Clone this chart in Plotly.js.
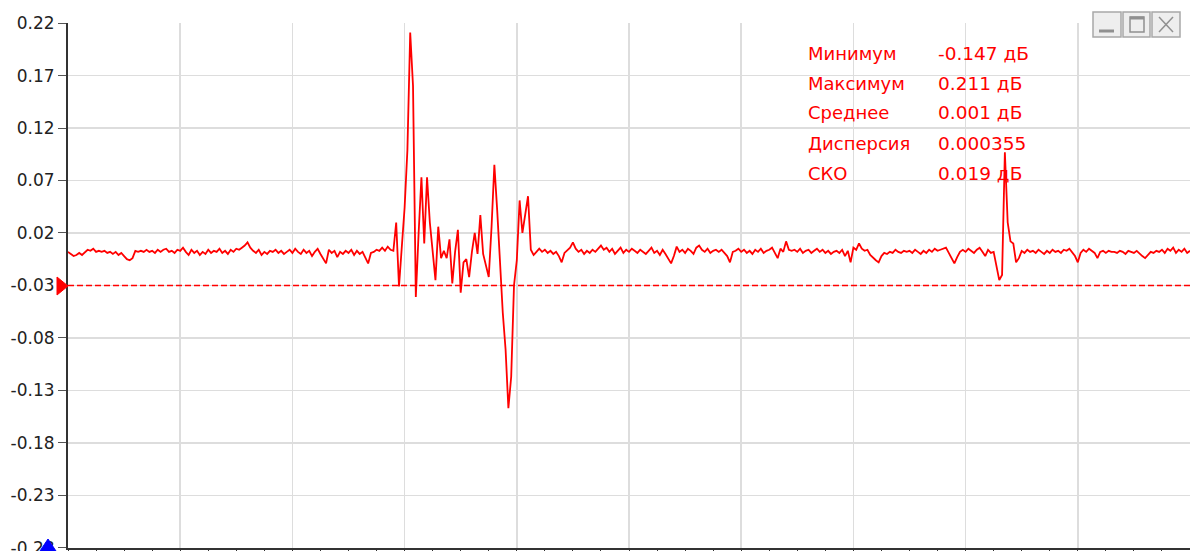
<!DOCTYPE html>
<html>
<head>
<meta charset="utf-8">
<script src="https://cdn.plot.ly/plotly-3.0.1.min.js"></script>
<style>
  html, body { margin: 0; padding: 0; background: #ffffff; }
  #chart { width: 1190px; height: 551px; }
</style>
</head>
<body>
<div id="chart"></div>
<script>
// ---- Data (dB), uniform sample spacing ----
const sampleStep = 2.5;

const baselineA = [
  0.002, 0.000, -0.002, -0.001, 0.001, -0.001, 0.002, 0.004, 0.003, 0.005, 0.002, 0.003, 0.002, 0.003, 0.001, 0.002, 0.000, 0.002, -0.001, 0.001,
  -0.002, -0.005, -0.006, -0.004, 0.003, 0.002, 0.003, 0.002, 0.004, 0.002, 0.003, 0.001, 0.004, 0.002, 0.004, 0.005, 0.002, 0.003, 0.001, 0.004,
  0.003, 0.006, 0.002, -0.001, 0.004, 0.001, 0.003, -0.001, 0.002, 0.000, 0.004, 0.001, 0.003, 0.002, 0.005, 0.001, 0.003, 0.000, 0.004, 0.002,
  0.005, 0.004, 0.006, 0.008, 0.011, 0.006, 0.003, 0.001, 0.004, -0.001, 0.002, 0.000, 0.003, 0.002, 0.004, 0.001, 0.003, 0.000, 0.002, 0.004,
  0.001, 0.005, 0.002, 0.000, 0.004, 0.001, 0.003, -0.002, 0.002, 0.005, 0.000, -0.004, -0.009, 0.004, 0.001, 0.003, -0.003, 0.002, 0.000, 0.003,
  0.001, 0.004, -0.001, 0.003, 0.000, 0.002, -0.004, -0.009, 0.001, 0.002, 0.004, 0.003, 0.006, 0.003, 0.007, 0.004
];

const eventMain = [
  0.003, 0.030, -0.031, 0.012, 0.044, 0.099, 0.211, 0.160, -0.041, 0.020,
  0.073, 0.010, 0.073, 0.030, 0.002, -0.025, 0.026, -0.004, 0.003, -0.004,
  0.014, -0.028, 0.002, 0.023, -0.037, -0.008, -0.005, -0.022, 0.002, 0.020,
  0.000, 0.037, 0.000, -0.010, -0.022, 0.026, 0.085, 0.042, -0.010, -0.056,
  -0.091, -0.147, -0.117, -0.030, -0.006, 0.051, 0.020, 0.039, 0.055, 0.004,
  -0.001, 0.002, 0.005
];

const baselineC = [
  0.002, 0.004, 0.001, 0.003, 0.000, 0.002, -0.002, -0.008, 0.001, 0.004, 0.006, 0.011, 0.005, 0.002, 0.004, 0.000, 0.003, 0.001, 0.004, 0.002, 0.005,
  0.008, 0.004, 0.006, 0.002, 0.005, 0.000, 0.003, 0.006, 0.001, 0.004, 0.002, 0.005, 0.003, 0.001, 0.004, 0.002, 0.000, 0.003, 0.006, 0.001,
  0.003, -0.001, 0.004, 0.000, -0.004, -0.009, -0.002, 0.007, 0.002, 0.004, 0.001, 0.005, 0.003, 0.000, 0.006, 0.008, 0.004, 0.002, 0.005, 0.001,
  0.003, 0.004, 0.002, 0.004, 0.001, -0.002, -0.008, 0.002, 0.003, 0.005, 0.002, 0.004, 0.001, 0.003, 0.000, 0.004, 0.002, 0.005, 0.001, 0.003,
  0.004, 0.006, 0.001, -0.004, 0.005, 0.002, 0.012, 0.004, 0.003, 0.004, 0.002, 0.005, 0.001, 0.003, 0.004, 0.001, 0.003, 0.005, 0.002, 0.004,
  0.001, 0.003, 0.000, 0.002, 0.003, 0.001, 0.004, -0.002, 0.003, -0.008, 0.006, 0.004, 0.010, 0.005, 0.003, 0.004, -0.001, -0.004, -0.006, -0.008,
  -0.002, 0.001, 0.000, 0.002, 0.001, 0.004, 0.002, 0.001, 0.003, 0.002, 0.003, 0.001, 0.004, 0.002, 0.000, 0.003, 0.001, 0.004, 0.002, 0.005,
  0.003, 0.004, 0.005, 0.006, 0.001, -0.004, -0.009, -0.003, 0.002, 0.004, 0.002, 0.005, 0.003, 0.001, 0.004, 0.006, 0.002, -0.002, 0.004, 0.001
];

const eventSmall = [0.002, -0.012, -0.025, -0.020, 0.097, 0.030, 0.012, 0.010, -0.008];

const baselineE = [
  -0.004, 0.003, 0.001, 0.004, 0.002, 0.003, 0.001, 0.004, 0.002, 0.000, 0.003, 0.001, 0.004, 0.002, 0.003, 0.001, 0.004, 0.003, 0.005, 0.002,
  -0.002, -0.008, 0.001, 0.004, 0.002, 0.005, 0.003, 0.001, -0.004, 0.002, 0.003, 0.001, 0.003, 0.002, 0.002, 0.001, 0.003, 0.002, 0.000, 0.003,
  0.002, 0.001, 0.003, 0.000, -0.002, -0.004, -0.001, 0.002, 0.001, 0.003, 0.002, 0.004, 0.001, 0.005, 0.003, 0.006, 0.001, 0.004, 0.002, 0.005, 0.001, 0.003
];

const refLevel = -0.03;

const yTickVals = [0.22, 0.17, 0.12, 0.07, 0.02, -0.03, -0.08, -0.13, -0.18, -0.23, -0.28];
const yTickText = ['0.22', '0.17', '0.12', '0.07', '0.02', '-0.03', '-0.08', '-0.13', '-0.18', '-0.23', '-0.28'];

const statNames = ['Минимум', 'Максимум', 'Среднее', 'Дисперсия', 'СКО'];
const statValues = ['-0.147 дБ', '0.211 дБ', '0.001 дБ', '0.000355', '0.019 дБ'];

// ---- Build series ----
const yVals = [].concat(baselineA, eventMain, baselineC, eventSmall, baselineE);
const xVals = yVals.map((_, i) => i * sampleStep);

// ---- Layout helpers (pixel -> paper) ----
const L = 68, T = 23, W = 1122, H = 525;
const px = p => (p - L) / W;
const py = p => (T + H - p) / H;

const red = '#ff0000';
const shapes = [
  { type: 'line', xref: 'paper', yref: 'y', x0: 0, x1: 1, y0: refLevel, y1: refLevel,
    line: { color: red, width: 1.6, dash: '6px,3px' }, layer: 'above' },
  // red reference marker on left
  { type: 'path', xref: 'paper', yref: 'paper', layer: 'above',
    path: `M ${px(57)} ${py(277)} L ${px(68)} ${py(286)} L ${px(57)} ${py(295)} Z`,
    fillcolor: red, line: { color: red, width: 1 } },
  // blue cursor marker at bottom-left
  { type: 'path', xref: 'paper', yref: 'paper', layer: 'above',
    path: `M ${px(48)} ${py(539)} L ${px(60)} ${py(557)} L ${px(36)} ${py(557)} Z`,
    fillcolor: '#0000ff', line: { color: '#0000ff', width: 1 } }
];

// window buttons
const btns = [[1093, 1121], [1123, 1150], [1152, 1180]];
btns.forEach(b => {
  shapes.push({ type: 'rect', xref: 'paper', yref: 'paper', layer: 'above',
    x0: px(b[0]), x1: px(b[1]), y0: py(37), y1: py(12),
    fillcolor: '#eeeeee', line: { color: '#a8a8a8', width: 1.5 } });
});
const ic = '#909090';
shapes.push({ type: 'line', xref: 'paper', yref: 'paper', layer: 'above',
  x0: px(1099), x1: px(1114), y0: py(31), y1: py(31), line: { color: ic, width: 3 } });
shapes.push({ type: 'rect', xref: 'paper', yref: 'paper', layer: 'above',
  x0: px(1130), x1: px(1144), y0: py(32), y1: py(17), line: { color: ic, width: 1.5 } });
shapes.push({ type: 'line', xref: 'paper', yref: 'paper', layer: 'above',
  x0: px(1130), x1: px(1144), y0: py(18), y1: py(18), line: { color: ic, width: 3 } });
shapes.push({ type: 'line', xref: 'paper', yref: 'paper', layer: 'above',
  x0: px(1159), x1: px(1173), y0: py(17), y1: py(32), line: { color: ic, width: 1.5 } });
shapes.push({ type: 'line', xref: 'paper', yref: 'paper', layer: 'above',
  x0: px(1159), x1: px(1173), y0: py(32), y1: py(17), line: { color: ic, width: 1.5 } });

const annotations = [];
statNames.forEach((n, i) => {
  const yc = py(53 + i * 30);
  annotations.push({ xref: 'paper', yref: 'paper', x: px(806), y: yc, xanchor: 'left', yanchor: 'middle',
    text: n, showarrow: false, font: { family: 'DejaVu Sans', size: 18, color: red } });
  annotations.push({ xref: 'paper', yref: 'paper', x: px(936), y: yc, xanchor: 'left', yanchor: 'middle',
    text: statValues[i], showarrow: false, font: { family: 'DejaVu Sans', size: 18.5, color: red } });
});

const trace = {
  x: xVals, y: yVals, type: 'scatter', mode: 'lines',
  line: { color: red, width: 1.8 }, hoverinfo: 'skip'
};

const layout = {
  width: 1190, height: 551,
  margin: { l: L, r: 1190 - L - W, t: T, b: 551 - T - H, pad: 0 },
  paper_bgcolor: '#ffffff', plot_bgcolor: '#ffffff',
  showlegend: false,
  font: { family: 'DejaVu Sans', size: 17, color: '#222222' },
  xaxis: {
    range: [0, 1000], dtick: 100, tick0: 0, showticklabels: false,
    showgrid: true, gridcolor: '#dddddd', gridwidth: 1.5, zeroline: false,
    showline: true, linecolor: '#333333', linewidth: 2,
    ticks: 'outside', ticklen: 3, tickcolor: '#333333',
    minor: { dtick: 25, ticks: 'outside', ticklen: 3, tickcolor: '#333333', showgrid: false }
  },
  yaxis: {
    range: [-0.2802, 0.2201], tickmode: 'array', tickvals: yTickVals, ticktext: yTickText,
    showgrid: true, gridcolor: '#dddddd', gridwidth: 1.5, zeroline: false,
    showline: true, linecolor: '#333333', linewidth: 2,
    ticks: 'outside', ticklen: 8, tickcolor: '#555555', ticklabeloverflow: 'allow',
    tickfont: { family: 'DejaVu Sans', size: 17, color: '#222222' }
  },
  shapes: shapes,
  annotations: annotations
};

Plotly.newPlot('chart', [trace], layout, { displayModeBar: false, staticPlot: true });
</script>
</body>
</html>
